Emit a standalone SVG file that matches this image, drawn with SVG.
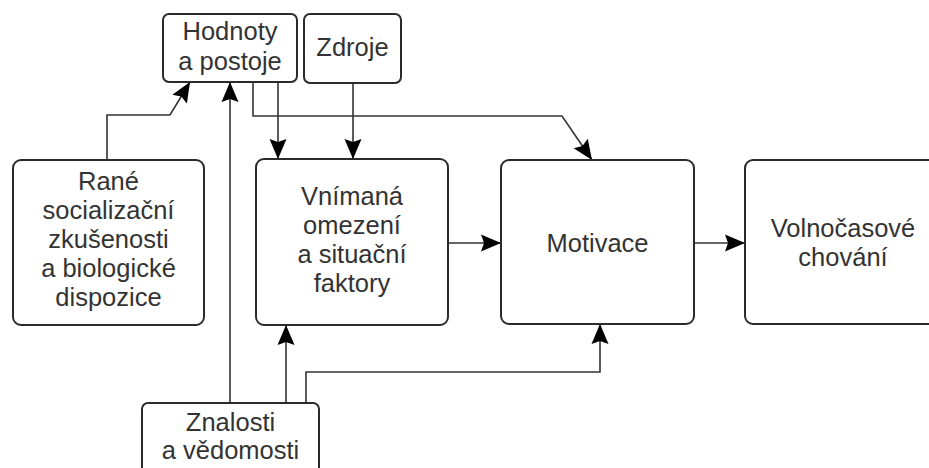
<svg xmlns="http://www.w3.org/2000/svg" width="929" height="468" viewBox="0 0 929 468">
<style>
.box{fill:#fff;stroke:#2b2b2b;stroke-width:2}
.t{font-family:"Liberation Sans",Arial,sans-serif;font-size:25.5px;fill:#333;text-anchor:middle}
.c{fill:none;stroke:#333;stroke-width:1.6;marker-end:url(#ah)}
</style>
<defs>
<marker id="ah" markerUnits="userSpaceOnUse" markerWidth="21" markerHeight="18" refX="20" refY="9" orient="auto" viewBox="0 0 21 18">
<path d="M0,0.5 L20,9 L0,17.5 L3,9 Z" fill="#000"/>
</marker>
</defs>
<rect width="929" height="468" fill="#fff"/>
<g id="connectors">
<path class="c" d="M107,160 V115 H170 L190,82"/>
<path class="c" d="M230,403 V82"/>
<path class="c" d="M286,403 V325"/>
<path class="c" d="M306,403 V372 H600 V324"/>
<path class="c" d="M278,82 V159"/>
<path class="c" d="M353,83 V159"/>
<path class="c" d="M253,82 V116 H562 L592,160"/>
<path class="c" d="M448,243 H501"/>
<path class="c" d="M694,243 H745"/>
</g>
<g id="hodnoty">
<rect class="box" x="163" y="14" width="134" height="68" rx="6"/>
<text class="t" x="230" y="40">Hodnoty</text>
<text class="t" x="230" y="70">a postoje</text>
</g>
<g id="zdroje">
<rect class="box" x="304" y="14" width="97" height="69" rx="6"/>
<text class="t" x="352.5" y="56">Zdroje</text>
</g>
<g id="rane">
<rect class="box" x="13" y="160" width="191" height="165" rx="8"/>
<text class="t" x="108.5" y="190">Rané</text>
<text class="t" x="108.5" y="219">socializační</text>
<text class="t" x="108.5" y="248">zkušenosti</text>
<text class="t" x="108.5" y="277">a biologické</text>
<text class="t" x="108.5" y="306">dispozice</text>
</g>
<g id="vnimana">
<rect class="box" x="256" y="159" width="192" height="166" rx="8"/>
<text class="t" x="352" y="205">Vnímaná</text>
<text class="t" x="352" y="234">omezení</text>
<text class="t" x="352" y="263">a situační</text>
<text class="t" x="352" y="292">faktory</text>
</g>
<g id="motivace">
<rect class="box" x="501" y="160" width="193" height="164" rx="8"/>
<text class="t" x="597.5" y="252">Motivace</text>
</g>
<g id="volnocasove">
<rect class="box" x="745" y="160" width="196" height="164" rx="8"/>
<text class="t" x="843" y="237">Volnočasové</text>
<text class="t" x="843" y="266">chování</text>
</g>
<g id="znalosti">
<rect class="box" x="142" y="403" width="177" height="72" rx="6"/>
<text class="t" x="230.5" y="431">Znalosti</text>
<text class="t" x="230.5" y="459">a vědomosti</text>
</g>
</svg>
